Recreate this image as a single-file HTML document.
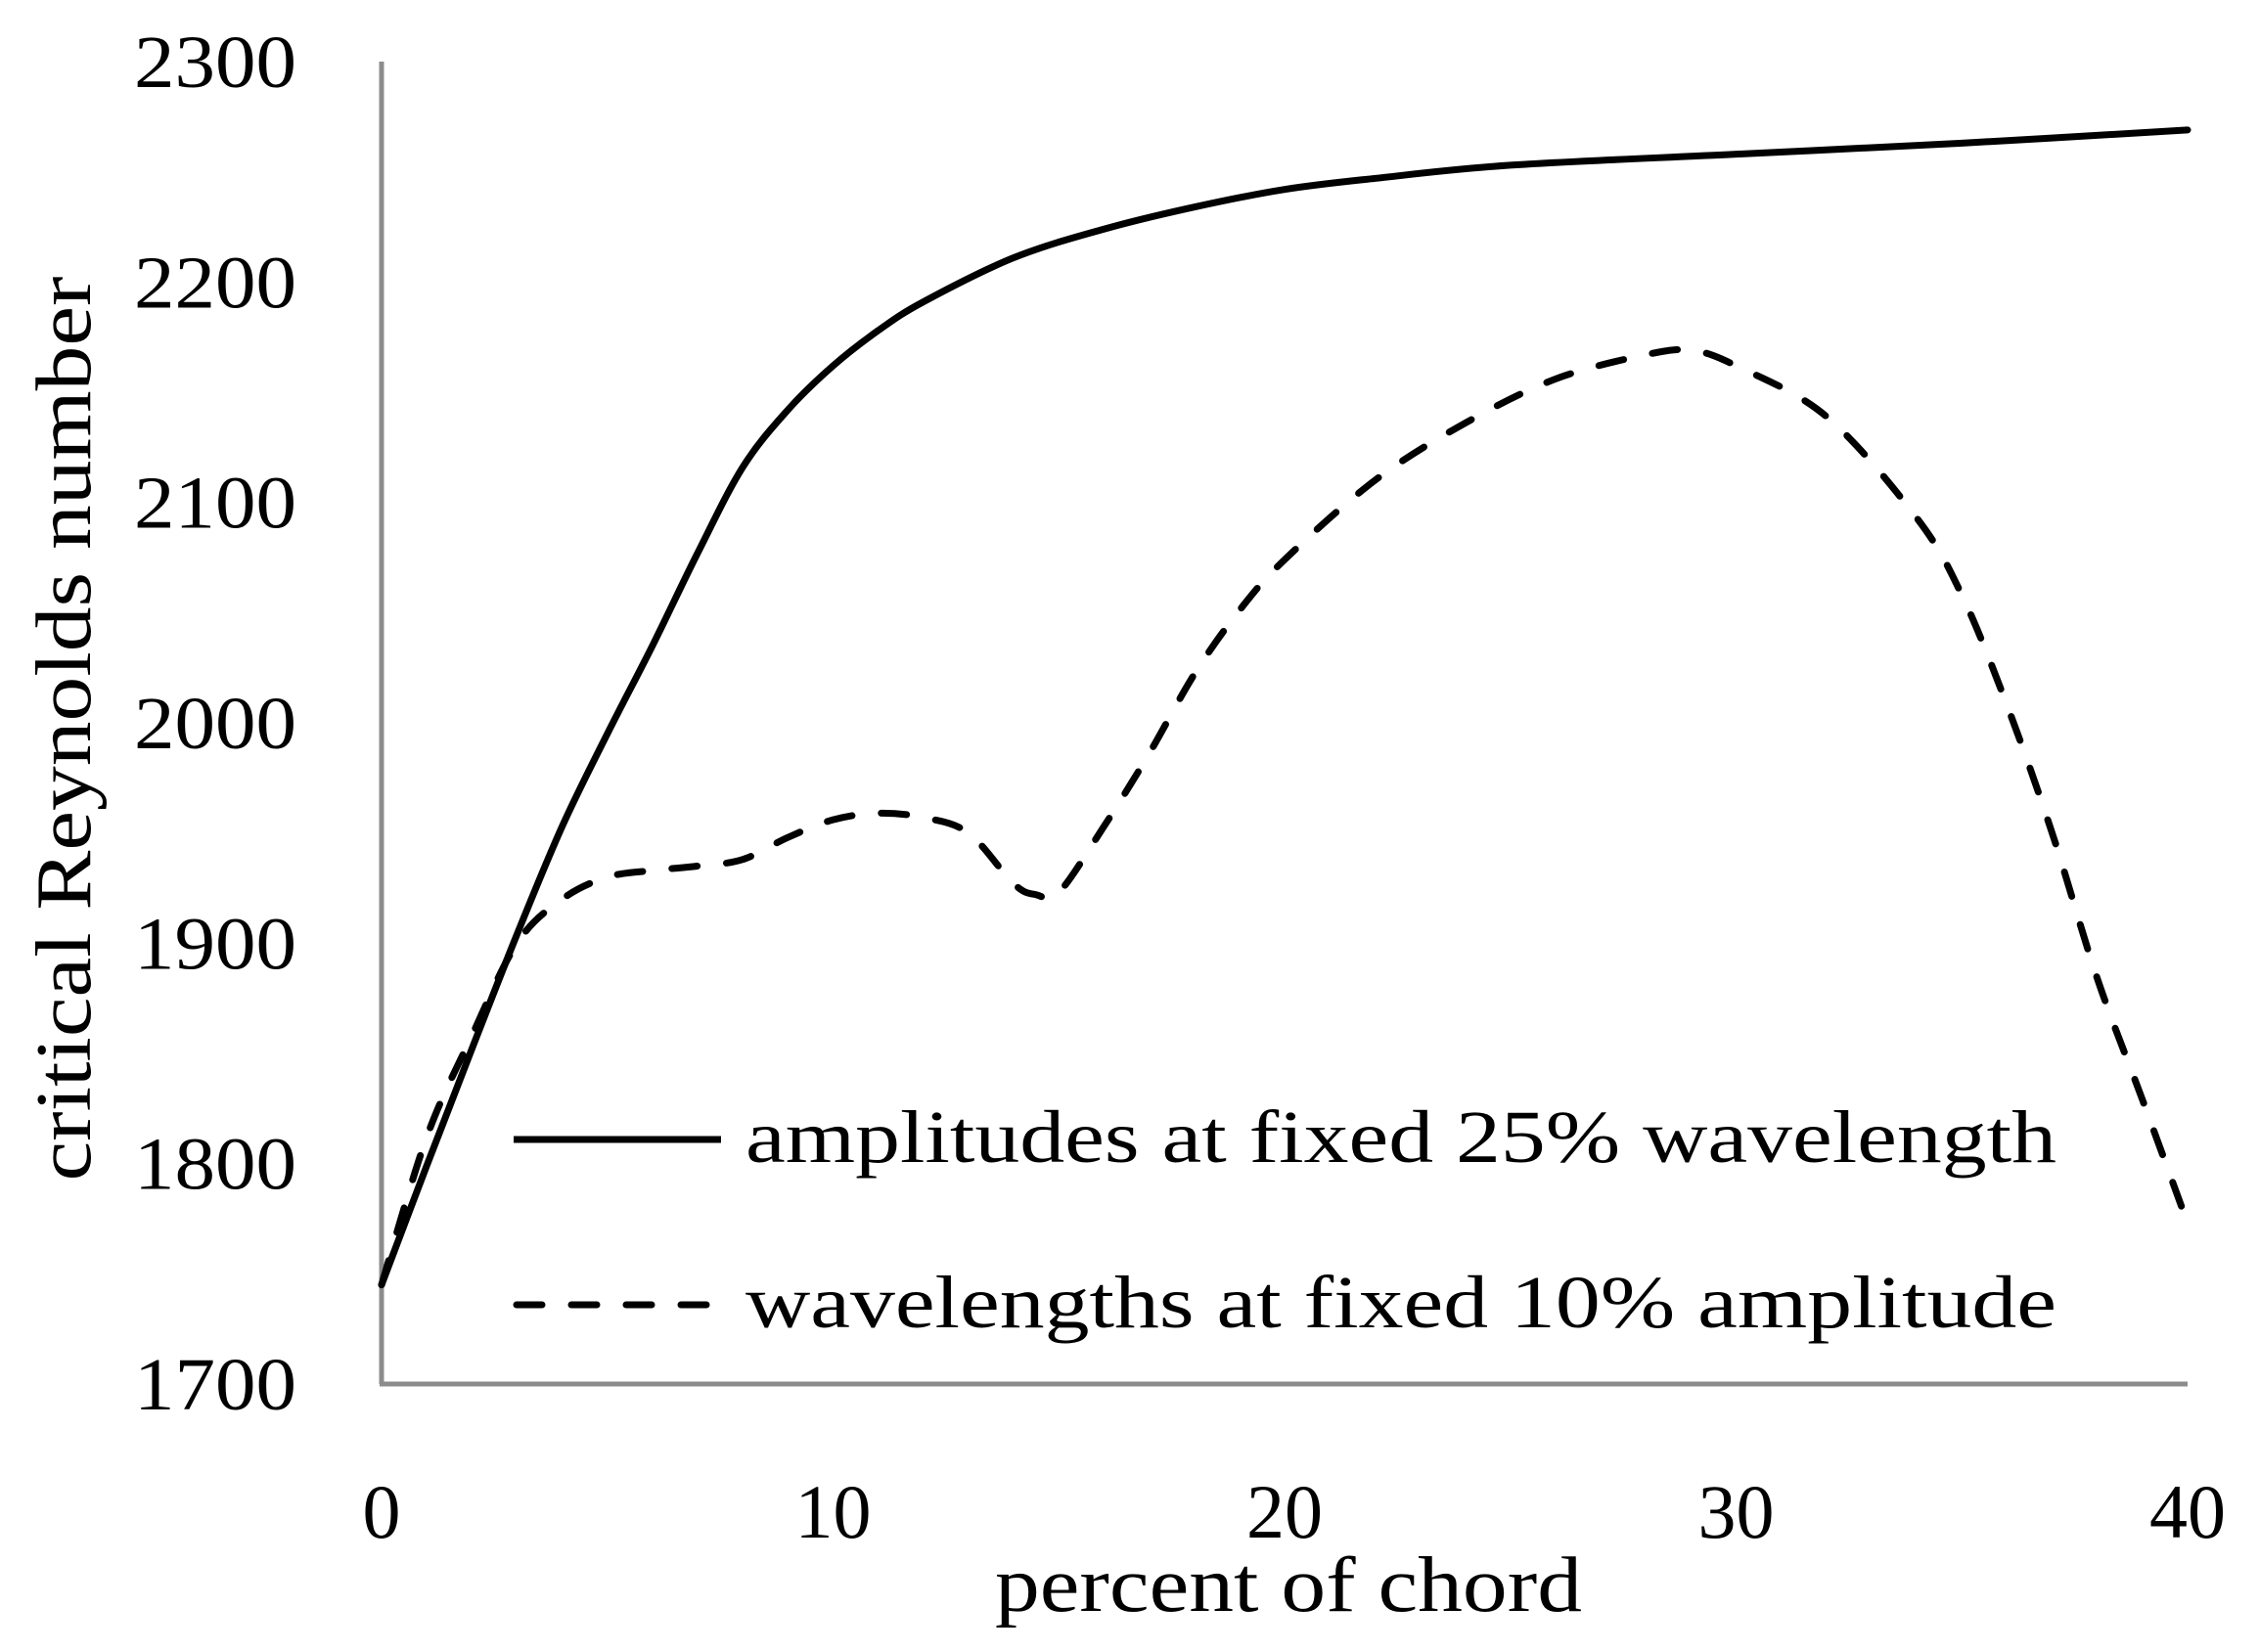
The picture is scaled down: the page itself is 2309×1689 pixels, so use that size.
<!DOCTYPE html>
<html><head><meta charset="utf-8"><style>
html,body{margin:0;padding:0;background:#fff;}
svg{display:block;font-family:"Liberation Serif",serif;}
</style></head><body>
<svg id="chart" width="2309" height="1689" viewBox="0 0 2309 1689">
<g id="axes"></g><g id="series"></g><g id="legend"></g>
</svg>
<script>
const xTicks=[0,10,20,30,40];
const yTicks=[1700,1800,1900,2000,2100,2200,2300];
const solidX=[0,1,2,3,4,5,6,7,8,9,10,11,12,14,16,18,20,22,25,30,35,40];
const solidY=[1745,1799,1852,1904,1953,1995,2035,2077,2116,2142,2162,2178,2191,2211,2224,2234,2242,2247,2253,2258,2263,2269];
const dashX=[0,1,2,3,4,5,6,7,8,9,10,11,12,13,14,14.5,15,16,17,18,19,20,22,24,26,28,29,30,32,34,35,36,37,38,39,40];
const dashY=[1745,1812,1858,1900,1920,1930,1933,1935,1938,1948,1956,1959,1957,1950,1927,1922,1923,1953,1986,2022,2051,2074,2110,2136,2156,2167,2169,2162,2139,2093,2058,2008,1950,1884,1829,1773];
const NS='http://www.w3.org/2000/svg';
const X0=390,X1=2236,Y0=1415,Y1=63;
function sx(v){return X0+(v-0)/(40-0)*(X1-X0);}
function sy(v){return Y0-(v-1700)/(2300-1700)*(Y0-Y1);}
function mk(t,a,p){const e=document.createElementNS(NS,t);for(const k in a)e.setAttribute(k,a[k]);p.appendChild(e);return e;}
const axes=document.getElementById('axes'),series=document.getElementById('series'),legend=document.getElementById('legend');
let yl=mk('line',{x1:X0,y1:Y1,x2:X0,y2:Y0,stroke:'#8c8c8c','stroke-width':5},axes);


let xl=mk('line',{x1:X0-2,y1:Y0,x2:X1,y2:Y0,stroke:'#8c8c8c','stroke-width':5},axes);


yTicks.forEach(v=>{const t=mk('text',{x:303,y:sy(v)+26,'text-anchor':'end','font-size':76,textLength:166,lengthAdjust:'spacingAndGlyphs'},axes);t.textContent=v;

});
xTicks.forEach(v=>{const t=mk('text',{x:sx(v),y:1572,'text-anchor':'middle','font-size':78},axes);t.textContent=v;

});
let xt=mk('text',{x:1317,y:1647,'text-anchor':'middle','font-size':80,textLength:600,lengthAdjust:'spacingAndGlyphs'},axes);xt.textContent='percent of chord';


let yt=mk('text',{x:0,y:0,'text-anchor':'middle','font-size':80,textLength:925,lengthAdjust:'spacingAndGlyphs',transform:'translate(92,745) rotate(-90)'},axes);yt.textContent='critical Reynolds number';


function path(xs,ys){const p=xs.map((x,i)=>[sx(x),sy(ys[i])]);let d='M'+p[0][0]+','+p[0][1];
for(let i=0;i<p.length-1;i++){const a=p[Math.max(0,i-1)],b=p[i],c=p[i+1],e=p[Math.min(p.length-1,i+2)];
d+=' C'+(b[0]+(c[0]-a[0])/6)+','+(b[1]+(c[1]-a[1])/6)+' '+(c[0]-(e[0]-b[0])/6)+','+(c[1]-(e[1]-b[1])/6)+' '+c[0]+','+c[1];}return d;}
let s1=mk('path',{d:path(solidX,solidY),fill:'none',stroke:'#000','stroke-width':7,'stroke-linecap':'round'},series);


let s2=mk('path',{d:path(dashX,dashY),fill:'none',stroke:'#000','stroke-width':7,'stroke-dasharray':'26 30','stroke-linecap':'round'},series);


let l1=mk('line',{x1:525,y1:1165,x2:737,y2:1165,stroke:'#000','stroke-width':7},legend);


let t1=mk('text',{x:762,y:1188,'font-size':76,textLength:1340,lengthAdjust:'spacingAndGlyphs'},legend);t1.textContent='amplitudes at fixed 25% wavelength';


let l2=mk('line',{x1:528,y1:1334,x2:737,y2:1334,stroke:'#000','stroke-width':7,'stroke-dasharray':'26 30','stroke-linecap':'round'},legend);


let t2=mk('text',{x:762,y:1357,'font-size':76,textLength:1340,lengthAdjust:'spacingAndGlyphs'},legend);t2.textContent='wavelengths at fixed 10% amplitude';


</script>
</body></html>
